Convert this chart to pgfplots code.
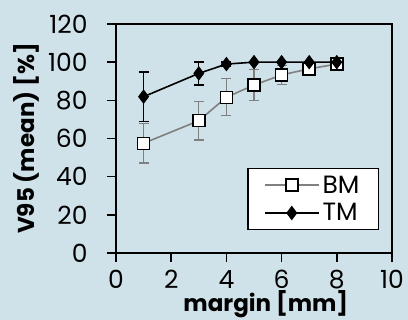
\documentclass[border=0pt]{standalone}
\usepackage{pgfplots}
\pgfplotsset{compat=1.18}
\usepackage{fontspec}
\setmainfont{Poppins}
\definecolor{bg}{RGB}{207,226,233}
\definecolor{bmgray}{RGB}{128,128,128}
\begin{document}
\begin{tikzpicture}
\fill[bg] (-116pt,-67pt) rectangle (292pt,253pt);
\useasboundingbox (-116pt,-67pt) rectangle (292pt,253pt);
\begin{axis}[
  scale only axis, width=276pt, height=229pt,
  xmin=0, xmax=10, ymin=0, ymax=120,
  xtick={0,2,...,10}, ytick={0,20,...,120},
  tick align=outside, xtick pos=left, ytick pos=left,
  major tick length=9pt,
  axis line style={line width=1.6pt},
  every tick/.style={black, line width=1.6pt},
  /pgf/number format/assume math mode=true,
  ticklabel style={font=\fontsize{25}{28}\selectfont},
  xticklabel style={yshift=-5pt},
  yticklabel style={xshift=-16pt},
  xlabel={\bfseries margin [mm]},
  ylabel={\bfseries V95 (mean) [\%]},
  xlabel style={at={(rel axis cs:0.543,-0.256)}, anchor=base, font=\fontsize{23}{26}\selectfont},
  ylabel style={at={(rel axis cs:-0.326,0.5)}, anchor=center, font=\fontsize{23}{26}\selectfont},
  legend style={at={(rel axis cs:0.953,0.371)}, anchor=north east, draw=black, line width=1.2pt,
    fill=white, font=\fontsize{25}{28}\selectfont, row sep=3pt, inner xsep=16pt, inner ysep=4pt,
    nodes={inner sep=3pt}},
  legend cell align=left,
  legend image code/.code={
    \draw[mark repeat=2,mark phase=2,#1] plot coordinates {(0pt,0pt) (27pt,0pt) (54pt,0pt)};
  },
]
\addplot[color=bmgray, line width=1.6pt, mark=square*,
  mark options={fill=white, draw=black, line width=1.5pt}, mark size=6pt,
  error bars/.cd, y dir=both, y explicit,
  error bar style={color=bmgray, line width=1.4pt},
  error mark options={rotate=90, mark size=5pt, line width=1.4pt, color=bmgray}]
  coordinates {
  (1,57.5) +- (0,10.3)
  (3,69.3) +- (0,10)
  (4,81.6) +- (0,9.7)
  (5,88) +- (0,8)
  (6,93.3) +- (0,5)
  (7,96.5) +- (0,3)
  (8,99) +- (0,1)
  };
\addlegendentry{BM}
\addplot[color=black, line width=1.6pt, mark=diamond*,
  mark options={fill=black, draw=black, line width=1pt}, mark size=6.5pt,
  error bars/.cd, y dir=both, y explicit,
  error bar style={color=black, line width=1.4pt},
  error mark options={rotate=90, mark size=5pt, line width=1.4pt, color=black}]
  coordinates {
  (1,81.9) +- (0,12.9)
  (3,94.1) +- (0,6)
  (4,99) +- (0,1)
  (5,100) +- (0,0)
  (6,100) +- (0,0)
  (7,100) +- (0,0)
  (8,100) +- (0,0)
  };
\addlegendentry{TM}
\end{axis}
\end{tikzpicture}
\end{document}
